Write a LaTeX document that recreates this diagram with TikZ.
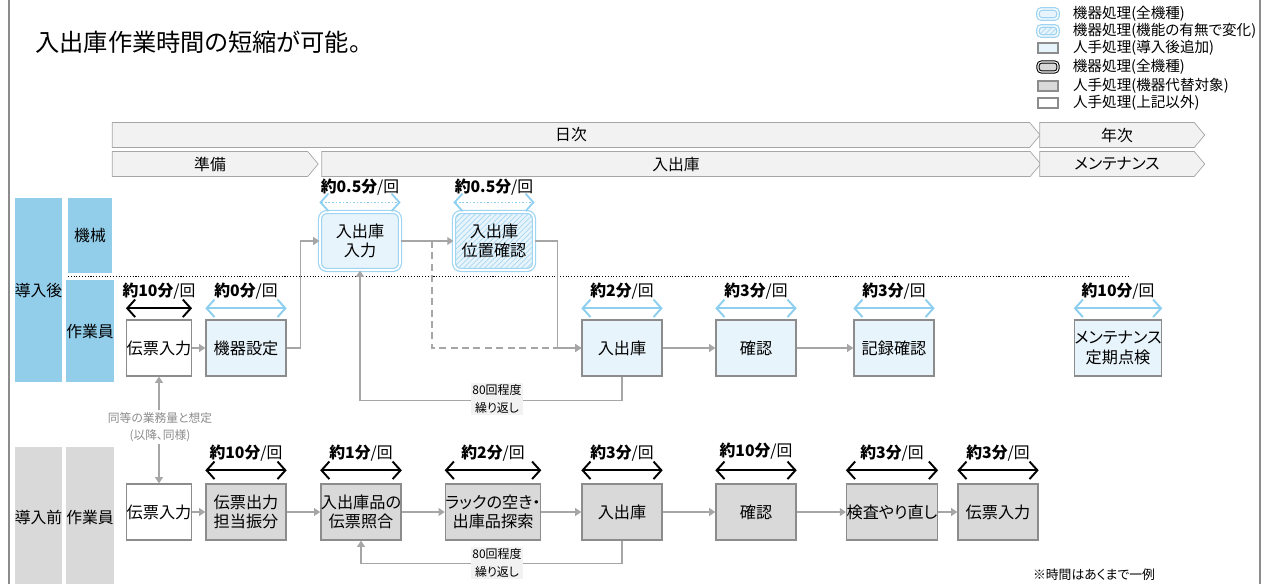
\documentclass[tikz,border=0pt]{standalone}
\usepackage{fontspec}
\setmainfont{Noto Sans CJK JP}[RawFeature=+palt]
\usepackage{xcolor}
\usepackage{tikz}
\usetikzlibrary{positioning,arrows.meta,shapes.symbols,patterns}

\definecolor{laneblue}{HTML}{92CDEA}
\definecolor{lanegray}{HTML}{D9D9D9}
\definecolor{addfill}{HTML}{E8F4FB}
\definecolor{grayfill}{HTML}{D9D9D9}
\definecolor{boxline}{HTML}{8C8C8C}
\definecolor{machline}{HTML}{9FD5F2}
\definecolor{hatchblue}{HTML}{A9D8F3}
\definecolor{tblue}{HTML}{8ECFF0}
\definecolor{flowgray}{HTML}{A6A6A6}
\definecolor{bandfill}{HTML}{F2F2F2}
\definecolor{notegray}{HTML}{8C8C8C}

\begin{document}
\begin{tikzpicture}[x=0.02cm,y=-0.02cm, >={Triangle[length=3.5pt,width=4.5pt]},
  every node/.style={inner sep=0pt},
  box/.style={draw=boxline,line width=0.8pt,align=center,minimum width=1.6cm,minimum height=1.12cm,font=\fontsize{9.2}{11.2}\selectfont},
  plainbox/.style={box,fill=white,minimum width=1.28cm},
  addbox/.style={box,fill=addfill},
  dropbox/.style={box,fill=grayfill},
  machbox/.style={box,draw=machline,line width=0.7pt,double=white,double distance=1pt,rounded corners=4pt,fill=addfill,minimum height=1.16cm},
  hatchbox/.style={machbox,preaction={fill=addfill},pattern=north east lines,pattern color=hatchblue},
  lane/.style={fill=laneblue,align=center,font=\fontsize{9}{11}\selectfont},
  lanegray/.style={lane,fill=lanegray},
  band/.style={signal,signal to=east,signal pointer angle=100,draw=flowgray,fill=bandfill,minimum height=0.5cm,font=\fontsize{9}{10}\selectfont},
  flow/.style={draw=flowgray,line width=0.8pt,->},
  tblack/.style={line width=1.1pt,arrows={Straight Barb[length=4.5pt,width=10pt]-Straight Barb[length=4.5pt,width=10pt]}},
  tlblue/.style={tblack,draw=tblue},
  tdot/.style={tlblue,line width=1pt,densely dotted},
  tlab/.style={font=\fontsize{9}{10}\selectfont},
  repnote/.style={fill=bandfill,align=center,inner sep=1pt,font=\fontsize{6.8}{10}\selectfont},
  legtxt/.style={anchor=west,font=\fontsize{8.3}{9}\selectfont}]
\useasboundingbox (0,0) rectangle (1270,584);
\draw[boxline,line width=1.6pt] (9,0) -- (9,584);
\draw[boxline,line width=1.6pt] (1260,0) -- (1260,584);

% title and legend
\node[anchor=west,font=\fontsize{13.8}{15}\selectfont] (title) at (35,42) {入出庫作業時間の短縮が可能。};
\node[machbox,minimum width=0.4cm,minimum height=0.2cm,rounded corners=2pt,double distance=0.8pt] (lg1) at (1048,14) {};
\node[hatchbox,minimum width=0.4cm,minimum height=0.2cm,rounded corners=2pt,double distance=0.8pt] (lg2) at (1048,31) {};
\node[addbox,minimum width=0.4cm,minimum height=0.2cm] (lg3) at (1048,48) {};
\node[dropbox,draw=black,line width=0.6pt,double=white,double distance=0.6pt,rounded corners=2pt,minimum width=0.4cm,minimum height=0.2cm] (lg4) at (1048,67) {};
\node[dropbox,minimum width=0.4cm,minimum height=0.2cm] (lg5) at (1048,86) {};
\node[plainbox,minimum width=0.4cm,minimum height=0.2cm] (lg6) at (1048,103) {};
\node[legtxt,right=0.28cm of lg1] (lt1) {機器処理(全機種)};
\node[legtxt,right=0.28cm of lg2] (lt2) {機器処理(機能の有無で変化)};
\node[legtxt,right=0.28cm of lg3] (lt3) {人手処理(導入後追加)};
\node[legtxt,right=0.28cm of lg4] (lt4) {機器処理(全機種)};
\node[legtxt,right=0.28cm of lg5] (lt5) {人手処理(機器代替対象)};
\node[legtxt,right=0.28cm of lg6] (lt6) {人手処理(上記以外)};

% time bands
\node[band,minimum width=18.56cm] (daily) at (571,135) {日次};
\node[band,minimum width=3.3cm] (yearly) at (1117,135) {年次};
\node[band,minimum width=4.12cm] (prep) at (210,164) {準備};
\node[band,minimum width=14.38cm] (inout) at (676,164) {入出庫};
\node[band,minimum width=3.3cm] (maint) at (1117,164) {メンテナンス};

% lanes
\node[lane,minimum width=0.94cm,minimum height=3.68cm] (after) at (38.5,290) {導入後};
\node[lane,minimum width=0.88cm,minimum height=1.5cm] (kikai) at (90,235.5) {機械};
\node[lane,minimum width=0.88cm,minimum height=2.04cm] (staffa) at (90,331) {作業員};
\node[lanegray,minimum width=0.94cm,minimum height=2.8cm] (before) at (38.5,517) {導入前};
\node[lanegray,minimum width=0.88cm,minimum height=2.8cm] (staffb) at (90,517) {作業員};
\draw[densely dotted,line width=0.6pt] (68,276.5) -- (1128,276.5);

% after
\node[plainbox] (a1) at (159,348) {伝票入力};
\node[addbox] (a2) at (246,348) {機器設定};
\node[machbox] (m1) at (360,241) {入出庫\\入力};
\node[hatchbox] (m2) at (494,241) {入出庫\\位置確認};
\node[addbox] (a3) at (622,348) {入出庫};
\node[addbox] (a4) at (756,348) {確認};
\node[addbox] (a5) at (894,348) {記録確認};
\node[addbox] (a6) at (1118,348) {メンテナンス\\定期点検};
\coordinate (split) at (432,241);

\draw[flow] (a1) -- (a2);
\draw[flow] (a2.east) -- ++(14,0) |- (m1.west);
\draw[flow] (m1) -- (m2);
\draw[flow,dash pattern=on 4pt off 2.5pt] (split) |- (a3.west);
\draw[flow] (m2.east) -- ++(23,0) |- (a3.west);
\draw[flow] (a3) -- (a4);
\draw[flow] (a4) -- (a5);
\draw[flow] (a3.south) -- ++(0,24) -| (m1.south);
\node[repnote] (rep1) at (497,399) {80回程度\\繰り返し};

\draw[tblack] ([yshift=0.22cm]a1.north west) -- ([yshift=0.22cm]a1.north east) node[tlab,midway,above=0.16cm] (ta1) {\textbf{約10分}/回};
\draw[tlblue] ([yshift=0.22cm]a2.north west) -- ([yshift=0.22cm]a2.north east) node[tlab,midway,above=0.16cm] (ta2) {\textbf{約0分}/回};
\draw[tdot] ([yshift=0.18cm]m1.north west) -- ([yshift=0.18cm]m1.north east) node[tlab,midway,above=0.12cm] (tm1) {\textbf{約0.5分}/回};
\draw[tdot] ([yshift=0.18cm]m2.north west) -- ([yshift=0.18cm]m2.north east) node[tlab,midway,above=0.12cm] (tm2) {\textbf{約0.5分}/回};
\draw[tlblue] ([yshift=0.22cm]a3.north west) -- ([yshift=0.22cm]a3.north east) node[tlab,midway,above=0.16cm] (ta3) {\textbf{約2分}/回};
\draw[tlblue] ([yshift=0.22cm]a4.north west) -- ([yshift=0.22cm]a4.north east) node[tlab,midway,above=0.16cm] (ta4) {\textbf{約3分}/回};
\draw[tlblue] ([yshift=0.22cm]a5.north west) -- ([yshift=0.22cm]a5.north east) node[tlab,midway,above=0.16cm] (ta5) {\textbf{約3分}/回};
\draw[tlblue] ([yshift=0.22cm]a6.north west) -- ([yshift=0.22cm]a6.north east) node[tlab,midway,above=0.16cm] (ta6) {\textbf{約10分}/回};

% before
\node[plainbox] (b1) at (159,512) {伝票入力};
\node[dropbox] (b2) at (246,512) {伝票出力\\担当振分};
\node[dropbox] (b3) at (361,512) {入出庫品の\\伝票照合};
\node[dropbox] (b4) at (493,512) {ラックの空き・\\出庫品探索};
\node[dropbox] (b5) at (622,512) {入出庫};
\node[dropbox] (b6) at (756,512) {確認};
\node[dropbox] (b7) at (892,512) {検査やり直し};
\node[dropbox] (b8) at (998,512) {伝票入力};

\draw[flow] (b1) -- (b2);
\draw[flow] (b2) -- (b3);
\draw[flow] (b3) -- (b4);
\draw[flow] (b4) -- (b5);
\draw[flow] (b5) -- (b6);
\draw[flow] (b6) -- (b7);
\draw[flow] (b7) -- (b8);
\draw[flow] (b5.south) -- ++(0,23) -| (b3.south);
\node[repnote] (rep2) at (497,563) {80回程度\\繰り返し};

\draw[flow,<->,line width=0.6pt] (b1.north) -- (a1.south);
\node[fill=white,text=notegray,align=center,inner sep=1pt,font=\fontsize{6.7}{10}\selectfont] (same) at (160,427) {同等の業務量と想定\\(以降、同様)};

\draw[tblack] ([yshift=0.26cm]b2.north west) -- ([yshift=0.26cm]b2.north east) node[tlab,midway,above=0.16cm] (tb2) {\textbf{約10分}/回};
\draw[tblack] ([yshift=0.26cm]b3.north west) -- ([yshift=0.26cm]b3.north east) node[tlab,midway,above=0.16cm] (tb3) {\textbf{約1分}/回};
\draw[tblack] ([yshift=0.26cm]b4.north west) -- ([yshift=0.26cm]b4.north east) node[tlab,midway,above=0.16cm] (tb4) {\textbf{約2分}/回};
\draw[tblack] ([yshift=0.26cm]b5.north west) -- ([yshift=0.26cm]b5.north east) node[tlab,midway,above=0.16cm] (tb5) {\textbf{約3分}/回};
\draw[tblack] ([yshift=0.26cm]b6.north west) -- ([yshift=0.26cm]b6.north east) node[tlab,midway,above=0.2cm] (tb6) {\textbf{約10分}/回};
\draw[tblack] ([yshift=0.26cm]b7.north west) -- ([yshift=0.26cm]b7.north east) node[tlab,midway,above=0.16cm] (tb7) {\textbf{約3分}/回};
\draw[tblack] ([yshift=0.26cm]b8.north west) -- ([yshift=0.26cm]b8.north east) node[tlab,midway,above=0.16cm] (tb8) {\textbf{約3分}/回};

\node[font=\fontsize{7.3}{9}\selectfont] (remark) at (1094,575) {※時間はあくまで一例};
\end{tikzpicture}
\end{document}
